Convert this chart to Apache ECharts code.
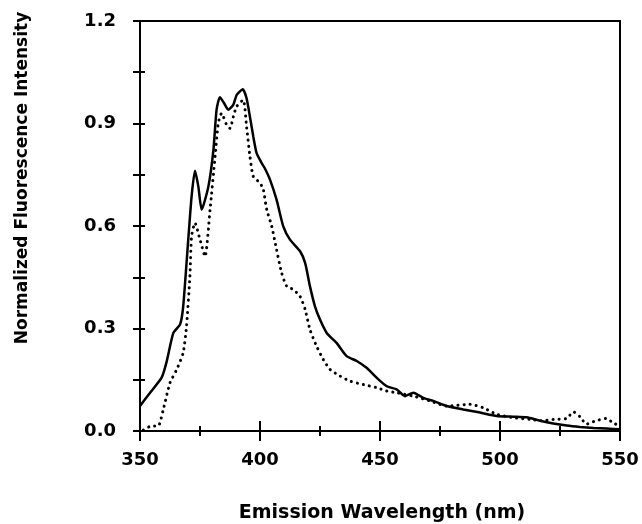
<!DOCTYPE html>
<html>
<head>
<meta charset="utf-8">
<script src="https://cdn.jsdelivr.net/npm/echarts@6/dist/echarts.min.js"></script>
<style>
html,body{margin:0;padding:0;background:#fff;}
#chart{width:642px;height:524px;}
</style>
</head>
<body>
<div id="chart"></div>
<script>
// Wavelengths (nm) and normalized intensities
const solidWavelength = [350,354.2,359,361,363.9,366.7,368,370,371.5,372.9,374.3,375.7,378.5,380.6,381.9,383.3,385,386.8,388.9,390.3,392.8,394.4,395.8,397.2,398.6,400.7,402,404.2,406.9,409.7,412.5,416.7,418.8,420.8,422.9,425,427.8,431.9,436.1,440.3,444.4,448.6,452.8,456.9,460.4,463.9,468,472.2,477.8,484.7,491.7,498.6,505.6,511.1,516.7,522.2,527.8,533.3,538.9,544.4,550];
const solidIntensity = [0.073,0.112,0.156,0.2,0.287,0.312,0.365,0.55,0.687,0.762,0.716,0.648,0.716,0.823,0.94,0.977,0.96,0.94,0.955,0.984,1.0,0.974,0.92,0.862,0.813,0.784,0.769,0.735,0.677,0.599,0.56,0.526,0.492,0.424,0.365,0.326,0.287,0.258,0.219,0.205,0.185,0.156,0.131,0.122,0.102,0.112,0.097,0.088,0.073,0.063,0.054,0.044,0.042,0.04,0.03,0.022,0.016,0.012,0.009,0.007,0.005];

const dottedWavelength = [351.4,354.9,357.6,359.7,362.5,365.3,368,369.4,370.8,371.5,372.9,375,377.1,379.2,381.3,382.6,384,386.1,387.5,388.9,390.3,393,394.4,395.8,397.2,400,401.4,402.8,404.9,406.9,409,411.1,413.9,416.7,418.8,420.8,423.6,426.4,429.2,433.3,437.5,443.1,448.6,452.8,456.9,463.9,470.8,477.8,487.5,493,498.6,505.6,512.5,517,522.2,527.8,530.6,533.3,536,540,544.4,547,550];
const dottedIntensity = [0.003,0.015,0.015,0.063,0.141,0.18,0.229,0.307,0.453,0.57,0.609,0.56,0.511,0.648,0.804,0.9,0.93,0.896,0.886,0.92,0.95,0.969,0.891,0.804,0.745,0.726,0.706,0.648,0.599,0.531,0.463,0.424,0.414,0.394,0.356,0.297,0.248,0.209,0.18,0.161,0.146,0.136,0.127,0.117,0.112,0.102,0.088,0.073,0.078,0.068,0.049,0.039,0.034,0.03,0.034,0.037,0.056,0.042,0.02,0.03,0.037,0.024,0.015];

const xTicks = [350,400,450,500,550];
const yTicks = [0.0,0.3,0.6,0.9,1.2];

const solidData = solidWavelength.map((w,i)=>[w,solidIntensity[i]]);
const dottedData = dottedWavelength.map((w,i)=>[w,dottedIntensity[i]]);

const FONT = 'DejaVu Sans';
const chart = echarts.init(document.getElementById('chart'));
const xBase = {type:'value',min:xTicks[0],max:xTicks[xTicks.length-1],interval:50,position:'bottom',splitLine:{show:false}};
const yBase = {type:'value',min:yTicks[0],max:yTicks[yTicks.length-1],interval:0.3,position:'left',splitLine:{show:false}};
chart.setOption({
  animation:false,
  backgroundColor:'#fff',
  grid:{left:140,right:22,top:21,bottom:93,show:true,borderColor:'#000',borderWidth:2,backgroundColor:'transparent'},
  xAxis:[
    Object.assign({},xBase,{
      axisLine:{show:true,lineStyle:{color:'#000',width:2}},
      axisTick:{show:true,inside:false,length:10,lineStyle:{color:'#000',width:2}},
      minorTick:{show:true,splitNumber:2,length:5,lineStyle:{color:'#000',width:2}},
      axisLabel:{show:true,margin:20,color:'#000',fontFamily:FONT,fontWeight:'bold',fontSize:18}
    }),
    Object.assign({},xBase,{
      axisLine:{show:false},
      axisTick:{show:true,inside:true,length:10,lineStyle:{color:'#000',width:2}},
      minorTick:{show:true,splitNumber:2,length:5,lineStyle:{color:'#000',width:2}},
      axisLabel:{show:false}
    })
  ],
  yAxis:[
    Object.assign({},yBase,{
      axisLine:{show:true,lineStyle:{color:'#000',width:2}},
      axisTick:{show:true,inside:false,length:7,lineStyle:{color:'#000',width:2}},
      minorTick:{show:true,splitNumber:2,length:7,lineStyle:{color:'#000',width:2}},
      axisLabel:{show:true,margin:24,color:'#000',fontFamily:FONT,fontWeight:'bold',fontSize:18,formatter:v=>v.toFixed(1)}
    }),
    Object.assign({},yBase,{
      axisLine:{show:false},
      axisTick:{show:true,inside:true,length:5,lineStyle:{color:'#000',width:2}},
      minorTick:{show:true,splitNumber:2,length:5,lineStyle:{color:'#000',width:2}},
      axisLabel:{show:false}
    })
  ],
  series:[
    {type:'line',name:'solid',xAxisIndex:0,yAxisIndex:0,data:solidData,showSymbol:false,smooth:0.2,
     lineStyle:{color:'#000',width:2.5}},
    {type:'line',name:'dotted',xAxisIndex:0,yAxisIndex:0,data:dottedData,showSymbol:false,smooth:0.2,
     lineStyle:{color:'#000',width:3,type:[0.1,6],cap:'round'}}
  ],
  graphic:[
    {type:'text',x:382,y:513,
     style:{text:'Emission Wavelength (nm)',fill:'#000',font:'bold 19px "DejaVu Sans"',align:'center',verticalAlign:'middle'}},
    {type:'text',x:23,y:178,rotation:Math.PI/2,
     style:{text:'Normalized Fluorescence Intensity',fill:'#000',font:'bold 17px "DejaVu Sans"',align:'center',verticalAlign:'middle'}}
  ]
});
</script>
</body>
</html>
